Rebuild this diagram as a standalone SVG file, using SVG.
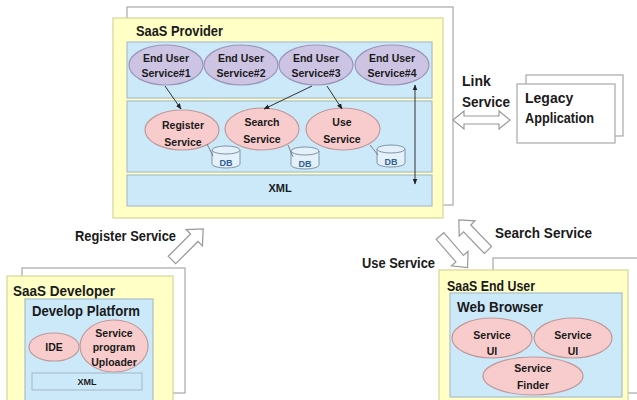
<svg xmlns="http://www.w3.org/2000/svg" width="637" height="400" viewBox="0 0 637 400">
  <style>
    .back { fill: #ffffff; stroke: #a8a8a8; stroke-width: 1.2; }
    .frame { fill: #ffffc6; stroke: #d6d69a; stroke-width: 1.2; }
    .panel { fill: #cce9fa; stroke: #a9bfcc; stroke-width: 1.2; }
    .purple { fill: #cdc4e4; stroke: #9a94b8; stroke-width: 1.2; }
    .pink { fill: #f8cccc; stroke: #c09a9a; stroke-width: 1.2; }
    .db { fill: #e4f1fa; stroke: #7f96a8; stroke-width: 1; }
    .hollow { fill: #ffffff; stroke: #9a9a9a; stroke-width: 1.2; }
    .link { stroke: #333333; stroke-width: 1; fill: none; }
    .thin { stroke: #666666; stroke-width: 0.8; fill: none; }
    text { font-family: "Liberation Sans", Arial, sans-serif; font-weight: bold; fill: #1a1a1a; }
    .head { font-size: 15px; }
    .label { font-size: 14px; }
    .small { font-size: 10.5px; text-anchor: middle; }
    .tiny { font-size: 9px; text-anchor: middle; }
    .xml { font-size: 11px; text-anchor: middle; }
    .dbt { font-size: 9px; fill: #2f5f9a; text-anchor: middle; }
  </style>
  <defs>
    <marker id="tip" viewBox="0 0 10 10" refX="9" refY="5" markerWidth="6" markerHeight="6" orient="auto-start-reverse">
      <path d="M0,1 L10,5 L0,9 z" fill="#222222"/>
    </marker>
    <!-- hollow block arrow, pointing along +x, 42 long -->
    <path id="blockArrow" d="M0,-5 L30,-5 L30,-11 L42,0 L30,11 L30,5 L0,5 Z"/>
    <!-- database cylinder, 28 wide -->
    <g id="cyl">
      <path class="db" d="M0,4 L0,18 A14,4 0 0 0 28,18 L28,4"/>
      <ellipse class="db" cx="14" cy="4" rx="14" ry="4"/>
    </g>
  </defs>

  <!-- SaaS Provider -->
  <g id="saas-provider">
    <rect class="back" x="127" y="7" width="326" height="198"/>
    <rect class="frame" x="113" y="18" width="330" height="200"/>
    <text class="head" x="136" y="36" textLength="87" lengthAdjust="spacingAndGlyphs">SaaS Provider</text>
    <rect class="panel" x="127" y="42" width="305" height="56"/>
    <rect class="panel" x="127" y="101" width="305" height="71"/>
    <rect class="panel" x="127" y="175" width="305" height="31"/>
    <text class="xml" x="280" y="192">XML</text>
  </g>

  <g id="eus1">
    <ellipse class="purple" cx="166" cy="65" rx="37" ry="20"/>
    <text class="small" x="166" y="62">End User</text>
    <text class="small" x="166" y="77">Service#1</text>
  </g>
  <g id="eus2">
    <ellipse class="purple" cx="241" cy="65" rx="37" ry="20"/>
    <text class="small" x="241" y="62">End User</text>
    <text class="small" x="241" y="77">Service#2</text>
  </g>
  <g id="eus3">
    <ellipse class="purple" cx="316" cy="65" rx="37" ry="20"/>
    <text class="small" x="316" y="62">End User</text>
    <text class="small" x="316" y="77">Service#3</text>
  </g>
  <g id="eus4">
    <ellipse class="purple" cx="392" cy="65" rx="37" ry="20"/>
    <text class="small" x="392" y="62">End User</text>
    <text class="small" x="392" y="77">Service#4</text>
  </g>

  <g id="register-service">
    <ellipse class="pink" cx="182" cy="130" rx="37" ry="20"/>
    <text class="small" x="183" y="129">Register</text>
    <text class="small" x="183" y="146">Service</text>
    <use href="#cyl" x="212" y="146"/>
    <text class="dbt" x="226" y="166">DB</text>
  </g>
  <g id="search-service">
    <ellipse class="pink" cx="262" cy="129" rx="37" ry="21"/>
    <text class="small" x="262" y="126">Search</text>
    <text class="small" x="262" y="143">Service</text>
    <use href="#cyl" x="291" y="147"/>
    <text class="dbt" x="305" y="167">DB</text>
  </g>
  <g id="use-service">
    <ellipse class="pink" cx="343" cy="129" rx="37" ry="21"/>
    <text class="small" x="342" y="126">Use</text>
    <text class="small" x="342" y="143">Service</text>
    <use href="#cyl" x="377" y="145"/>
    <text class="dbt" x="391" y="165">DB</text>
  </g>

  <!-- Legacy Application -->
  <g id="legacy-application">
    <rect class="back" x="526" y="75" width="97" height="61"/>
    <rect class="back" x="517" y="84" width="98" height="59"/>
    <text class="label" x="525" y="103">Legacy</text>
    <text class="label" x="525" y="123" textLength="69" lengthAdjust="spacingAndGlyphs">Application</text>
  </g>

  <!-- SaaS Developer -->
  <g id="saas-developer">
    <rect class="back" x="22" y="268" width="163" height="125"/>
    <rect class="frame" x="7" y="276" width="166" height="130"/>
    <text class="head" x="13" y="296" textLength="102" lengthAdjust="spacingAndGlyphs">SaaS Developer</text>
    <rect class="panel" x="25" y="299" width="128" height="104"/>
    <text class="head" x="32" y="316" textLength="108" lengthAdjust="spacingAndGlyphs">Develop Platform</text>
    <ellipse class="pink" cx="54" cy="347" rx="25" ry="14"/>
    <text class="small" x="54" y="351">IDE</text>
    <ellipse class="pink" cx="114" cy="346" rx="34" ry="26"/>
    <text class="small" x="114" y="337">Service</text>
    <text class="small" x="114" y="351">program</text>
    <text class="small" x="114" y="366">Uploader</text>
    <rect class="panel" x="32" y="373" width="110" height="17"/>
    <text class="tiny" x="87" y="385">XML</text>
  </g>

  <!-- SaaS End User -->
  <g id="saas-end-user">
    <rect class="back" x="493" y="258" width="150" height="135"/>
    <rect class="frame" x="439" y="270" width="189" height="136"/>
    <text class="head" x="447" y="291" textLength="88" lengthAdjust="spacingAndGlyphs">SaaS End User</text>
    <rect class="panel" x="450" y="293" width="172" height="104"/>
    <text class="head" x="457" y="312" textLength="86" lengthAdjust="spacingAndGlyphs">Web Browser</text>
    <ellipse class="pink" cx="492" cy="338" rx="40" ry="20"/>
    <text class="small" x="492" y="339">Service</text>
    <text class="small" x="492" y="355">UI</text>
    <ellipse class="pink" cx="573" cy="338" rx="39" ry="20"/>
    <text class="small" x="573" y="339">Service</text>
    <text class="small" x="573" y="355">UI</text>
    <ellipse class="pink" cx="533" cy="376" rx="50" ry="19"/>
    <text class="small" x="533" y="372">Service</text>
    <text class="small" x="533" y="389">Finder</text>
  </g>

  <!-- connectors -->
  <g id="connectors">
    <line class="link" x1="165" y1="86" x2="181" y2="109" marker-end="url(#tip)"/>
    <line class="link" x1="312" y1="86" x2="264" y2="109" marker-end="url(#tip)"/>
    <line class="link" x1="327" y1="86" x2="342" y2="109" marker-end="url(#tip)"/>
    <line class="link" x1="415" y1="85" x2="415" y2="184" marker-start="url(#tip)" marker-end="url(#tip)"/>
    <line class="thin" x1="207" y1="144" x2="213" y2="156"/>
    <line class="thin" x1="288" y1="145" x2="293" y2="157"/>
    <line class="thin" x1="370" y1="145" x2="378" y2="155"/>

    <!-- Link Service: double hollow arrow -->
    <path class="hollow" d="M453,120 L464,111 L464,116 L499,116 L499,111 L510,120 L499,129 L499,124 L464,124 L464,129 Z"/>
    <text class="label" x="462" y="86">Link</text>
    <text class="label" x="462" y="107" textLength="48" lengthAdjust="spacingAndGlyphs">Service</text>

    <!-- Register Service -->
    <use href="#blockArrow" class="hollow" transform="translate(172,260) rotate(-45) scale(1.05)"/>
    <text class="label" x="75" y="241" textLength="101" lengthAdjust="spacingAndGlyphs">Register Service</text>

    <!-- Search Service -->
    <use href="#blockArrow" class="hollow" transform="translate(488,250) rotate(-134)"/>
    <text class="label" x="495" y="238" textLength="97" lengthAdjust="spacingAndGlyphs">Search Service</text>

    <!-- Use Service -->
    <use href="#blockArrow" class="hollow" transform="translate(440,236) rotate(49)"/>
    <text class="label" x="362" y="268" textLength="73" lengthAdjust="spacingAndGlyphs">Use Service</text>
  </g>
</svg>
